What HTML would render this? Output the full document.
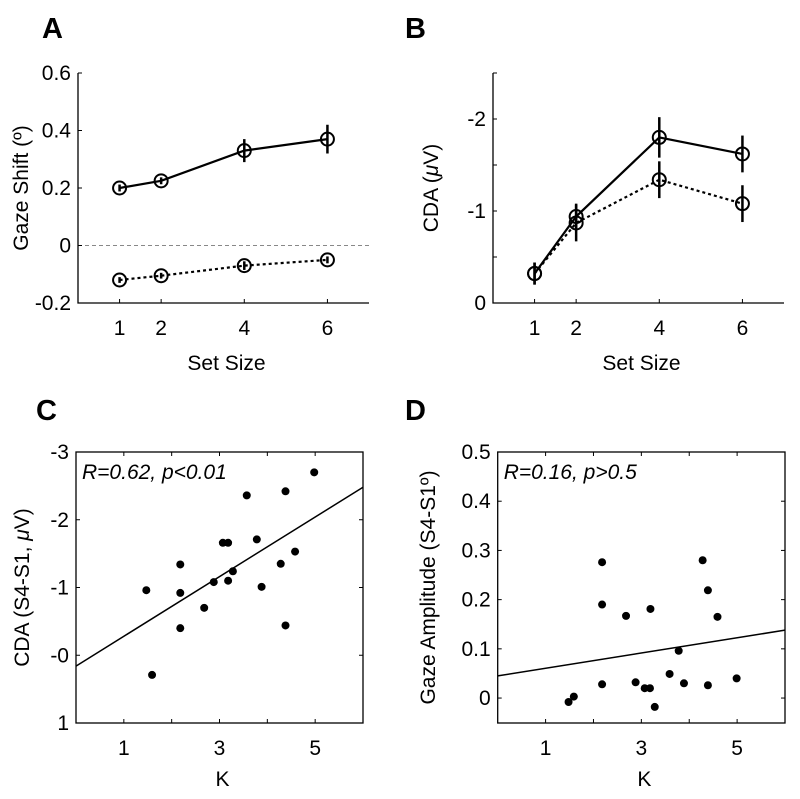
<!DOCTYPE html>
<html><head><meta charset="utf-8"><style>
html,body{margin:0;padding:0;background:#fff;width:800px;height:799px;overflow:hidden}
svg{display:block;font-family:"Liberation Sans",sans-serif}
</style></head><body>
<svg id="fig" width="800" height="799" viewBox="0 0 800 799">
<text x="42" y="38" font-size="29" font-weight="bold">A</text>
<text x="405" y="38" font-size="29" font-weight="bold">B</text>
<text x="36" y="420" font-size="29" font-weight="bold">C</text>
<text x="405" y="420" font-size="29" font-weight="bold">D</text>
</svg>
<script>
// Panel A data
const setSizes=[1,2,4,6];
const aSolid=[0.2,0.225,0.33,0.37];
const aSolidErr=[0.012,0.012,0.04,0.05];
const aDashed=[-0.12,-0.105,-0.07,-0.05];
const aDashedErr=[0.01,0.01,0.015,0.012];
const aYTicks=[0.6,0.4,0.2,0,-0.2];
const aYTickLabels=["0.6","0.4","0.2","0","-0.2"];
// Panel B data
const bSolid=[-0.32,-0.94,-1.8,-1.62];
const bSolidErr=[0.12,0.14,0.22,0.2];
const bDashed=[-0.32,-0.87,-1.34,-1.08];
const bDashedErr=[0.12,0.2,0.2,0.2];
const bYTicks=[-2,-1,0];
const bYTickLabels=["-2","-1","0"];
// Panel C data
const cK=[4.98,4.38,3.57,3.78,3.07,3.18,4.58,4.28,2.18,3.28,2.88,3.18,3.88,1.47,2.18,2.68,2.18,4.38,1.59];
const cCDA=[-2.70,-2.42,-2.36,-1.71,-1.66,-1.66,-1.53,-1.35,-1.34,-1.24,-1.08,-1.10,-1.01,-0.96,-0.92,-0.70,-0.40,-0.44,0.29];
const cFit=[0.16,-2.48];
const cYTicks=[-3,-2,-1,0,1];
const cYTickLabels=["-3","-2","-1","-0","1"];
// Panel D data
const dK=[2.18,2.18,2.68,3.19,4.28,4.39,4.59,3.78,3.59,4.99,2.18,2.88,3.07,3.18,3.89,4.39,1.48,1.59,3.28];
const dAmp=[0.276,0.19,0.167,0.181,0.28,0.219,0.165,0.096,0.049,0.04,0.028,0.032,0.020,0.020,0.030,0.026,-0.008,0.003,-0.018];
const dFit=[0.045,0.138];
const dYTicks=[0.5,0.4,0.3,0.2,0.1,0];
const dYTickLabels=["0.5","0.4","0.3","0.2","0.1","0"];
const kTicks=[1,3,5];

const FS=21;
const NS="http://www.w3.org/2000/svg";
const svg=document.getElementById('fig');
function mk(tag,attrs,parent){const e=document.createElementNS(NS,tag);for(const k in attrs)e.setAttribute(k,attrs[k]);(parent||svg).appendChild(e);return e;}
function lin(d0,d1,r0,r1){return v=>r0+(v-d0)*(r1-r0)/(d1-d0);}

function lineChart(p){
  const g=mk('g',{});
  
  
  const X=lin(0,7,p.x0,p.x1), Y=lin(p.yd0,p.yd1,p.y0,p.y1);
  if(p.zero){const z=mk('line',{x1:p.x0,x2:p.x1,y1:Y(0),y2:Y(0),stroke:'#888','stroke-width':1,'stroke-dasharray':'4,3'},g);
    }
  const ax=mk('path',{d:`M${p.x0},${p.y1}V${p.y0}H${p.x1}`,fill:'none',stroke:'#000','stroke-width':1.3},g);
  
  p.yticks.forEach((v,i)=>{mk('line',{x1:p.x0,x2:p.x0+4,y1:Y(v),y2:Y(v),stroke:'#000'},g);
    const t=mk('text',{x:p.x0-7,y:Y(v)+7,'font-size':FS,'text-anchor':'end'},g);t.textContent=p.ylabels[i];
    });
  (p.minor||[]).forEach(v=>mk('line',{x1:p.x0,x2:p.x0+4,y1:Y(v),y2:Y(v),stroke:'#000'},g));
  setSizes.forEach(v=>{mk('line',{x1:X(v),x2:X(v),y1:p.y0,y2:p.y0-4,stroke:'#000'},g);
    const t=mk('text',{x:X(v),y:p.y0+32,'font-size':FS,'text-anchor':'middle'},g);t.textContent=v;
    });
  [[p.dashed,p.dashedErr,'3,3','dashed-series'],[p.solid,p.solidErr,null,'solid-series']].forEach(([vals,err,dash,nm])=>{
    const pts=setSizes.map((s,i)=>X(s)+','+Y(vals[i])).join(' ');
    const pl=mk('polyline',{points:pts,fill:'none',stroke:'#000','stroke-width':2.2},g);
    if(dash)pl.setAttribute('stroke-dasharray',dash);
    
    setSizes.forEach((s,i)=>{
      mk('line',{x1:X(s),x2:X(s),y1:Y(vals[i]-err[i]),y2:Y(vals[i]+err[i]),stroke:'#000','stroke-width':2.5},g);
      const c=mk('circle',{cx:X(s),cy:Y(vals[i]),r:6.5,fill:'none',stroke:'#000','stroke-width':2},g);
      });
  });
  const xt=mk('text',{x:(p.x0+p.x1)/2+3,y:370,'font-size':FS,'text-anchor':'middle'},g);xt.textContent='Set Size';
  
  const yt=mk('text',{transform:`translate(${p.ytx},${(p.y0+p.y1)/2}) rotate(-90)`,'font-size':FS,'text-anchor':'middle'},g);
  yt.innerHTML=p.ytitle;
}
lineChart({name:'panel-a-chart',x0:78,x1:369,y0:303,y1:73,yd0:-0.2,yd1:0.6,zero:true,yticks:aYTicks,ylabels:aYTickLabels,
  solid:aSolid,solidErr:aSolidErr,dashed:aDashed,dashedErr:aDashedErr,ytx:28,ytitle:'Gaze Shift (º)'});
lineChart({name:'panel-b-chart',x0:493,x1:784,y0:303,y1:73,yd0:0,yd1:-2.5,yticks:bYTicks,ylabels:bYTickLabels,minor:[-0.5,-1.5,-2.5],
  solid:bSolid,solidErr:bSolidErr,dashed:bDashed,dashedErr:bDashedErr,ytx:438,ytitle:'CDA (<tspan font-style="italic">μ</tspan>V)'});

function scatter(p){
  const g=mk('g',{});
  
  
  const X=lin(0,6,p.x0,p.x1), Y=lin(p.yd0,p.yd1,p.y0,p.y1);
  const b=mk('rect',{x:p.x0,y:p.y1,width:p.x1-p.x0,height:p.y0-p.y1,fill:'none',stroke:'#000','stroke-width':1.3},g);
  
  p.yticks.forEach((v,i)=>{mk('line',{x1:p.x0,x2:p.x0+4,y1:Y(v),y2:Y(v),stroke:'#000'},g);
    mk('line',{x1:p.x1,x2:p.x1-4,y1:Y(v),y2:Y(v),stroke:'#000'},g);
    const t=mk('text',{x:p.x0-7,y:Y(v)+7,'font-size':FS,'text-anchor':'end'},g);t.textContent=p.ylabels[i];
    });
  [1,2,3,4,5].forEach(v=>{mk('line',{x1:X(v),x2:X(v),y1:p.y0,y2:p.y0-4,stroke:'#000'},g);
    mk('line',{x1:X(v),x2:X(v),y1:p.y1,y2:p.y1+4,stroke:'#000'},g);});
  kTicks.forEach(v=>{const t=mk('text',{x:X(v),y:p.y0+32,'font-size':FS,'text-anchor':'middle'},g);t.textContent=v;
    });
  const fl=mk('line',{x1:X(0),x2:X(6),y1:Y(p.fit[0]),y2:Y(p.fit[1]),stroke:'#000','stroke-width':1.5},g);
  
  p.xs.forEach((k,i)=>{const c=mk('circle',{cx:X(k),cy:Y(p.ys[i]),r:4,fill:'#000'},g);
    });
  const st=mk('text',{x:p.x0+6,y:p.y1+27,'font-size':FS,'font-style':'italic'},g);st.textContent=p.stat;
  
  const xt=mk('text',{x:(p.x0+p.x1)/2+3,y:786,'font-size':FS,'text-anchor':'middle'},g);xt.textContent='K';
  
  const yt=mk('text',{transform:`translate(${p.ytx},${(p.y0+p.y1)/2}) rotate(-90)`,'font-size':FS,'text-anchor':'middle'},g);
  yt.innerHTML=p.ytitle;
}
scatter({name:'panel-c-chart',x0:76,x1:363,y0:723,y1:452,yd0:1,yd1:-3,yticks:cYTicks,ylabels:cYTickLabels,
  xs:cK,ys:cCDA,fit:cFit,stat:'R=0.62, p<0.01',ytx:29,ytitle:'CDA (S4-S1, <tspan font-style="italic">μ</tspan>V)'});
scatter({name:'panel-d-chart',x0:497.7,x1:785,y0:723,y1:452,yd0:-0.0507,yd1:0.5,yticks:dYTicks,ylabels:dYTickLabels,
  xs:dK,ys:dAmp,fit:dFit,stat:'R=0.16, p>0.5',ytx:435,ytitle:'Gaze Amplitude  (S4-S1º)'});
</script>
</body></html>
